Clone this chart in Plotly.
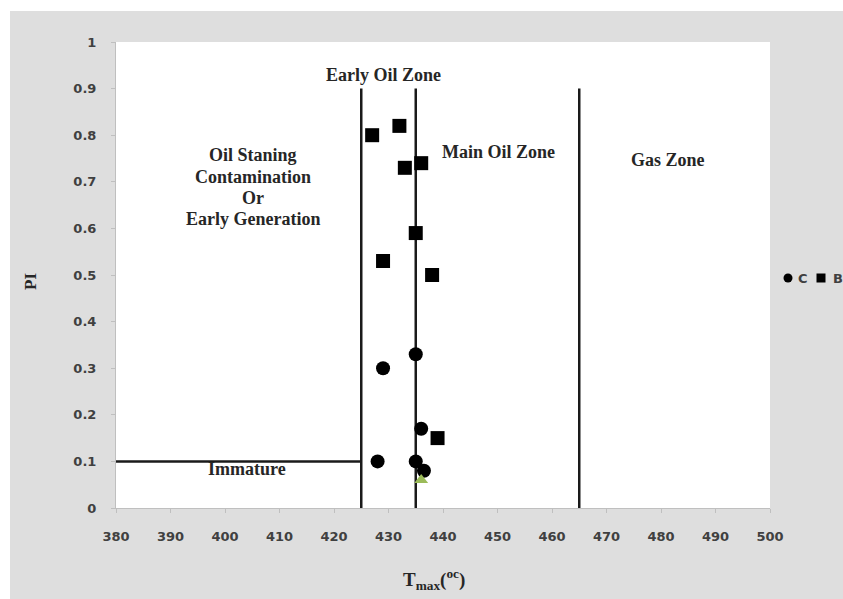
import plotly.graph_objects as go

# Sample measurements: Tmax (°C) and production index (PI)
c_tmax = [435, 429, 436, 428, 435, 436.5]
c_pi = [0.33, 0.30, 0.17, 0.10, 0.10, 0.08]

b_tmax = [427, 432, 433, 436, 435, 429, 438, 439]
b_pi = [0.80, 0.82, 0.73, 0.74, 0.59, 0.53, 0.50, 0.15]

a_tmax = [436]
a_pi = [0.06]

# Maturity zone boundaries
zone_x = [425, 435, 465]
zone_top = 0.9
immature_pi = 0.1

x_ticks = list(range(380, 501, 10))
y_ticks = [0, 0.1, 0.2, 0.3, 0.4, 0.5, 0.6, 0.7, 0.8, 0.9, 1]
y_ticktext = ["0", "0.1", "0.2", "0.3", "0.4", "0.5", "0.6", "0.7", "0.8", "0.9", "1"]

W, H = 843, 599
ML, MR, MT, MB = 116, 73, 42, 91
PW, PH = W - ML - MR, H - MT - MB

serif = "Liberation Serif"
sans = "DejaVu Sans"
ink = "#262626"
tick_grey = "#404040"


def px2x(p):
    return (p - ML) / PW


def px2y(p):
    return (H - MB - p) / PH


fig = go.Figure()
fig.add_trace(go.Scatter(x=c_tmax, y=c_pi, mode="markers", name="C",
                         marker=dict(symbol="circle", size=14, color="black")))
fig.add_trace(go.Scatter(x=b_tmax, y=b_pi, mode="markers", name="B",
                         marker=dict(symbol="square", size=14, color="black")))
fig.add_trace(go.Scatter(x=a_tmax, y=a_pi, mode="markers", name="A",
                         marker=dict(symbol="triangle-up", size=12, color="#9bbb59")))

shapes = []
for zx in zone_x:
    shapes.append(dict(type="line", xref="x", yref="y", x0=zx, x1=zx, y0=0, y1=zone_top,
                       line=dict(color="#1a1a1a", width=2.5), layer="below"))
shapes.append(dict(type="line", xref="x", yref="y", x0=x_ticks[0], x1=zone_x[0],
                   y0=immature_pi, y1=immature_pi,
                   line=dict(color="#1a1a1a", width=2.5), layer="below"))

# white border strip on the top and left of the grey frame
shapes.append(dict(type="rect", xref="paper", yref="paper", x0=px2x(-5), x1=px2x(10),
                   y0=px2y(H + 5), y1=px2y(-5), fillcolor="white", line=dict(width=0)))
shapes.append(dict(type="rect", xref="paper", yref="paper", x0=px2x(-5), x1=px2x(W + 5),
                   y0=px2y(11), y1=px2y(-5), fillcolor="white", line=dict(width=0)))

# compact legend at the right edge: swatch + series name
legend_y = px2y(278)
legend_items = [("circle", 788, 803, "C"), ("rect", 821, 838, "B")]
for kind, sx, tx, label in legend_items:
    shapes.append(dict(type=kind, xref="paper", yref="paper",
                       xsizemode="pixel", ysizemode="pixel",
                       xanchor=px2x(sx), yanchor=legend_y,
                       x0=-4.5, x1=4.5, y0=-4.5, y1=4.5,
                       fillcolor="black", line=dict(width=0)))

zone_font = dict(family=serif, size=18, color=ink)
annotations = [
    dict(x=429, y=0.929, text="<b>Early Oil Zone</b>"),
    dict(x=450.1, y=0.764, text="<b>Main Oil Zone</b>"),
    dict(x=481.3, y=0.747, text="<b>Gas Zone</b>"),
    dict(x=404, y=0.084, text="<b>Immature</b>"),
]
# multi-line zone label, one line per annotation for tighter leading
early_lines = ["Oil Staning", "Contamination", "Or", "Early Generation"]
early_line_y = [0.757, 0.710, 0.665, 0.620]
for txt, ly in zip(early_lines, early_line_y):
    annotations.append(dict(x=405.1, y=ly, text=f"<b>{txt}</b>"))
for a in annotations:
    a.update(xref="x", yref="y", showarrow=False, font=zone_font, align="center")

for _, _, tx, label in legend_items:
    annotations.append(dict(xref="paper", yref="paper", x=px2x(tx), y=legend_y,
                            text=label, showarrow=False, xanchor="center", yanchor="middle",
                            font=dict(family=sans, size=13, color=tick_grey, weight="bold")))

# axis titles
annotations.append(dict(xref="paper", yref="paper", x=px2x(434), y=px2y(579),
                        text="<b>T<sub>max</sub>(<sup>oc</sup>)</b>", showarrow=False,
                        xanchor="center", yanchor="middle",
                        font=dict(family=serif, size=19, color=ink)))
annotations.append(dict(xref="paper", yref="paper", x=px2x(30), y=px2y(282),
                        text="<b>PI</b>", showarrow=False, textangle=-90,
                        xanchor="center", yanchor="middle",
                        font=dict(family=serif, size=17, color=ink)))

axis_common = dict(showgrid=False, zeroline=False,
                   showline=True, linecolor="#bfbfbf", linewidth=1,
                   ticks="outside", ticklen=4, tickcolor="#bfbfbf",
                   ticklabelstandoff=12,
                   tickfont=dict(family=sans, size=13, color=tick_grey, weight="bold"))

fig.update_layout(
    width=W, height=H,
    margin=dict(l=ML, r=MR, t=MT, b=MB, autoexpand=False),
    paper_bgcolor="#dedede",
    plot_bgcolor="white",
    shapes=shapes,
    annotations=annotations,
    showlegend=False,
    xaxis=dict(range=[380, 500], tickvals=x_ticks, **axis_common),
    yaxis=dict(range=[0, 1], tickvals=y_ticks, ticktext=y_ticktext, **axis_common),
)

fig.write_html("out.html")
